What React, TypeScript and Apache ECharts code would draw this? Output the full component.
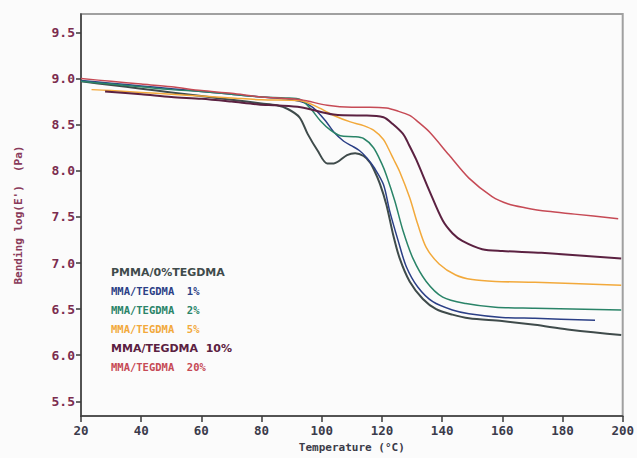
import React, { useEffect, useRef } from "react";
import * as echarts from "echarts";

const seriesNames = [
  "PMMA/0%TEGDMA",
  "MMA/TEGDMA  1%",
  "MMA/TEGDMA  2%",
  "MMA/TEGDMA  5%",
  "MMA/TEGDMA  10%",
  "MMA/TEGDMA  20%",
];

const xTicks = [20, 40, 60, 80, 100, 120, 140, 160, 180, 200];
const yTicks = [5.5, 6.0, 6.5, 7.0, 7.5, 8.0, 8.5, 9.0, 9.5];

const tegdma0: number[][] = [
  [20, 8.97], [30, 8.93], [40, 8.89], [50, 8.85], [60, 8.81], [70, 8.77], [80, 8.73],
  [85, 8.71], [88.7, 8.67], [92.6, 8.58], [95.3, 8.4], [98.6, 8.22], [101.8, 8.08],
  [104, 8.08], [108.4, 8.17], [111.1, 8.19], [113.9, 8.16], [116, 8.09], [117.5, 8.0],
  [119.3, 7.86], [121.5, 7.63], [123.7, 7.31], [125.9, 7.05], [129.2, 6.8], [133.6, 6.61],
  [138, 6.5], [143.4, 6.44], [148.9, 6.4], [159.9, 6.37], [170.8, 6.33], [181.7, 6.28],
  [199.5, 6.22],
];

const tegdma1: number[][] = [
  [20, 8.98], [30, 8.95], [40, 8.92], [50, 8.89], [60, 8.86], [70, 8.83], [80, 8.8],
  [88, 8.78], [93, 8.75], [96, 8.71], [98, 8.66], [101.3, 8.54], [104, 8.42],
  [107.3, 8.32], [110, 8.27], [112.5, 8.22], [115, 8.14], [117.5, 8.03], [120.5, 7.85],
  [122.6, 7.56], [125.4, 7.24], [128.1, 6.96], [131.9, 6.74], [136.9, 6.58],
  [143.4, 6.49], [148.9, 6.45], [159.9, 6.41], [170.8, 6.4], [190.8, 6.38],
];

const tegdma2: number[][] = [
  [20, 8.97], [30, 8.94], [40, 8.91], [50, 8.88], [60, 8.86], [70, 8.83], [80, 8.8],
  [88, 8.79], [93, 8.77], [96.4, 8.67], [99.6, 8.54], [102.9, 8.44], [106.2, 8.38],
  [110.6, 8.37], [113.9, 8.35], [117.2, 8.25], [119.9, 8.08], [121.5, 7.95],
  [124.3, 7.67], [127, 7.35], [130.3, 7.05], [134.7, 6.8], [140.2, 6.63],
  [147.9, 6.56], [157.7, 6.52], [170.8, 6.51], [199.5, 6.49],
];

const tegdma5: number[][] = [
  [23.5, 8.88], [30, 8.87], [40, 8.85], [50, 8.83], [60, 8.81], [70, 8.79], [80, 8.77],
  [93, 8.76], [98.6, 8.69], [104, 8.6], [109.5, 8.53], [113.9, 8.49], [117.2, 8.44],
  [120.5, 8.34], [122, 8.25], [123.8, 8.13], [125.9, 7.99], [129.2, 7.71],
  [131.9, 7.42], [134.7, 7.17], [139, 6.99], [144.5, 6.87], [150, 6.82],
  [157.7, 6.8], [170.8, 6.79], [199.5, 6.76],
];

const tegdma10: number[][] = [
  [28, 8.86], [40, 8.83], [50, 8.8], [60, 8.78], [70, 8.75], [79, 8.72], [85, 8.71],
  [93, 8.69], [104, 8.61], [111.7, 8.6], [115, 8.6], [120.5, 8.58], [123.5, 8.51],
  [127, 8.4], [129, 8.28], [131.4, 8.12], [135.8, 7.78], [140.2, 7.46], [143.5, 7.32],
  [146.7, 7.24], [153.3, 7.15], [160, 7.13], [173, 7.11], [199.5, 7.05],
];

const tegdma20: number[][] = [
  [20, 9.0], [30, 8.97], [40, 8.94], [50, 8.91], [60, 8.87], [70, 8.84], [80, 8.8],
  [93, 8.77], [101.8, 8.71], [110, 8.69], [116, 8.69], [121.5, 8.68], [125, 8.65],
  [129.2, 8.6], [132, 8.53], [135.8, 8.42], [142.3, 8.17], [148.9, 7.92],
  [156.6, 7.72], [162, 7.64], [167.5, 7.6], [175, 7.56], [184, 7.53], [198.5, 7.48],
];

const seriesData = [tegdma0, tegdma1, tegdma2, tegdma5, tegdma10, tegdma20];
const lineColors = ["#3f4b4b", "#2b3f86", "#2a8468", "#f2a93b", "#5b2141", "#c64a55"];
const lineWidths = [2, 1.5, 1.5, 1.5, 2, 1.5];
const legendBold = [true, false, false, false, true, false];

export default function App() {
  const ref = useRef<HTMLDivElement>(null);

  useEffect(() => {
    if (!ref.current) return;
    const chart = echarts.init(ref.current, null, { renderer: "svg" });
    const mono = "DejaVu Sans Mono";
    chart.setOption({
      animation: false,
      backgroundColor: "#fbfbfb",
      grid: {
        left: 81,
        right: 8,
        top: 14,
        bottom: 37,
        show: true,
        borderColor: "#a0a0a0",
        borderWidth: 2,
      },
      legend: {
        orient: "vertical",
        left: 101,
        top: 261,
        padding: 5,
        itemWidth: 0,
        itemHeight: 0,
        itemGap: 7,
        icon: "none",
        selectedMode: false,
        data: seriesNames.map((n, i) => ({
          name: n,
          textStyle: {
            color: lineColors[i],
            fontFamily: legendBold[i] ? "DejaVu Sans" : mono,
            fontWeight: "bold",
            fontSize: legendBold[i] ? 11 : 10.5,
            lineHeight: 12,
          },
        })),
      },
      xAxis: {
        type: "value",
        min: 20,
        max: 200,
        interval: 20,
        name: "Temperature (°C)",
        nameLocation: "middle",
        nameGap: 24,
        nameTextStyle: { fontFamily: mono, fontSize: 11, color: "#3a3a48", fontWeight: "bold" },
        axisLine: { show: true, onZero: false, lineStyle: { color: "#3a3a3a", width: 1.5 } },
        axisTick: { show: true, inside: false, length: 6, lineStyle: { color: "#3a3a3a", width: 1.5 } },
        axisLabel: {
          fontFamily: mono,
          fontSize: 12.5,
          fontWeight: "bold",
          color: "#3a3a4a",
          margin: 8,
          customValues: xTicks,
        },
        splitLine: { show: false },
      },
      yAxis: {
        type: "value",
        min: 5.34,
        max: 9.7,
        name: "Bending log(E')  (Pa)",
        nameLocation: "middle",
        nameGap: 57,
        nameRotate: 90,
        nameTextStyle: { fontFamily: mono, fontSize: 11, color: "#8a3a5a", fontWeight: "bold" },
        axisLine: { show: true, onZero: false, lineStyle: { color: "#3a3a3a", width: 1.5 } },
        axisTick: {
          show: true,
          inside: false,
          length: 5,
          customValues: yTicks,
          lineStyle: { color: "#3a3a3a", width: 1.5 },
        },
        axisLabel: {
          fontFamily: mono,
          fontSize: 13,
          fontWeight: "bold",
          color: "#7b2d4f",
          margin: 6,
          customValues: yTicks,
          formatter: (v: number) => v.toFixed(1),
        },
        splitLine: { show: false },
      },
      series: seriesData.map((d, i) => ({
        name: seriesNames[i],
        type: "line",
        data: d,
        smooth: 0.3,
        showSymbol: false,
        symbol: "none",
        lineStyle: { color: lineColors[i], width: lineWidths[i] },
        itemStyle: { color: lineColors[i] },
      })),
    });
    return () => chart.dispose();
  }, []);

  return (
    <div
      ref={ref}
      style={{ position: "fixed", left: 0, top: 0, width: 637, height: 458 }}
    />
  );
}
